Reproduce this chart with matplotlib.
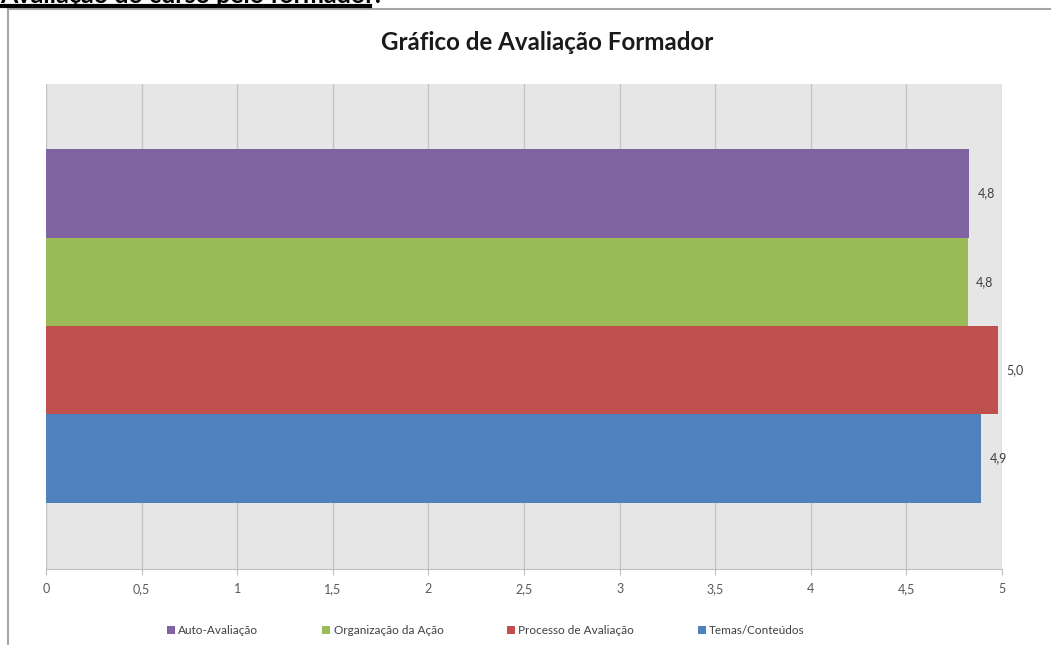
import matplotlib.pyplot as plt
from matplotlib.patches import Patch, Rectangle
from matplotlib.lines import Line2D

plt.rcParams['font.family'] = ['Lato', 'DejaVu Sans']

categorias = ['Temas/Conteúdos', 'Processo de Avaliação', 'Organização da Ação', 'Auto-Avaliação']
valores = [4.89, 4.98, 4.82, 4.83]
rotulos = ['4,9', '5,0', '4,8', '4,8']
cores = ['#4F81BD', '#C0504D', '#9BBB59', '#8064A2']
ticks_x = [0, 0.5, 1, 1.5, 2, 2.5, 3, 3.5, 4, 4.5, 5]
ticks_lbl = ['0', '0,5', '1', '1,5', '2', '2,5', '3', '3,5', '4', '4,5', '5']

W, H = 1051, 645
fig = plt.figure(figsize=(W / 100, H / 100), dpi=100)

# moldura do gráfico (canto superior esquerdo visível)
fig.add_artist(Rectangle((8 / W, -0.1), 1.2, (H - 9) / H + 0.1, transform=fig.transFigure,
                         fill=False, edgecolor='#A6A6A6', linewidth=1.5))

# título da secção, cortado no topo
fig.text(0.0, 1 - 3 / H, 'Avaliação do curso pelo formador:', fontsize=18, fontweight='bold',
         ha='left', va='baseline', color='black')
fig.add_artist(Line2D([0, 370 / W], [1 - 5.5 / H, 1 - 5.5 / H], transform=fig.transFigure,
                      color='black', linewidth=3))

ax = fig.add_axes([46 / W, 76 / H, 956 / W, 485 / H])
ax.set_facecolor('#E6E6E6')
y = range(len(categorias))
ax.barh(y, valores, height=1.0, color=cores, zorder=3)
for i, v in enumerate(valores):
    ax.text(v + 0.045, i, rotulos[i], va='center', ha='left', fontsize=9, color='#404040')

ax.set_xlim(0, 5)
ax.set_ylim(-1.248, 4.237)
ax.set_xticks(ticks_x)
ax.set_xticklabels(ticks_lbl, fontsize=9, color='#595959')
ax.set_yticks([])
ax.xaxis.grid(True, color='#C4C4C4', linewidth=1, zorder=1)
ax.set_axisbelow(True)
ax.tick_params(axis='x', length=4, color='#BFBFBF', pad=6)
for s in ['top', 'right', 'left']:
    ax.spines[s].set_visible(False)
ax.spines['bottom'].set_color('#BFBFBF')

fig.text(547 / W, 1 - 42 / H, 'Gráfico de Avaliação Formador', fontsize=17.4, fontweight='bold',
         ha='center', va='center', color='#1A1A1A')

handles = [Patch(facecolor=cores[i], label=categorias[i]) for i in [3, 2, 1, 0]]
fig.legend(handles=handles, ncol=4, loc='center', bbox_to_anchor=(486 / W, 1 - 631 / H),
           frameon=False, fontsize=8.5, handlelength=0.68, handleheight=0.68,
           handletextpad=0.27, columnspacing=5.4, labelcolor='#404040')

fig.savefig('out.png', dpi=100)
